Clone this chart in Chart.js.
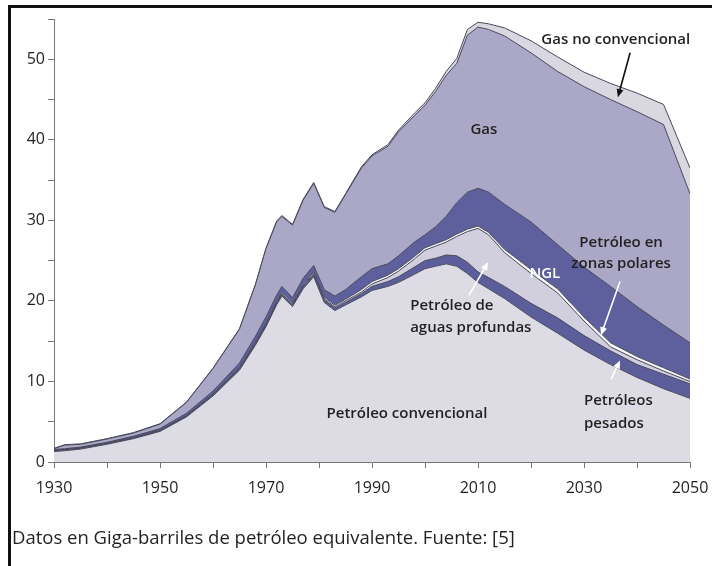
<!DOCTYPE html>
<html lang="es">
<head>
<meta charset="utf-8">
<title>Producción mundial de petróleo y gas</title>
<script src="https://cdn.jsdelivr.net/npm/chart.js"></script>
<style>
  html, body { margin:0; padding:0; background:#fff; }
  body { width:712px; height:566px; position:relative; overflow:hidden; font-family:"Open Sans", sans-serif; }
  .frame { position:absolute; left:8px; top:5px; width:800px; height:700px; border-left:3px solid #111; border-top:3px solid #111; }
  #chart { position:absolute; left:0; top:0; }
  .nota { position:absolute; left:12px; top:524px; font-size:18.5px; color:#231f20; white-space:nowrap; }
</style>
</head>
<body>
<div class="frame"></div>
<canvas id="chart" width="712" height="566"></canvas>
<div class="nota">Datos en Giga-barriles de petróleo equivalente. Fuente: [5]</div>
<script>
// years sampled from the figure (Gb oil equivalent per year, each layer = its own thickness)
const years = [1930,1932,1935,1940,1945,1950,1955,1960,1965,1968,1970,1972,1973,1975,1977,1979,1981,1983,1985,1988,1990,1993,1995,1998,2000,2002,2004,2006,2008,2010,2012,2015,2020,2025,2030,2035,2040,2045,2050];

const petroleoConvencional = [1.3,1.4,1.6,2.2,2.9,3.8,5.6,8.2,11.4,14.5,16.8,19.5,20.6,19.3,21.5,23.0,19.8,18.8,19.5,20.5,21.3,21.8,22.3,23.3,24.0,24.3,24.6,24.3,23.4,22.3,21.5,20.3,18.0,16.0,13.9,12.1,10.5,9.1,7.9];
const petroleosPesados     = [0.1,0.1,0.1,0.1,0.1,0.1,0.1,0.15,0.2,0.2,0.2,0.2,0.2,0.2,0.25,0.25,0.3,0.3,0.3,0.4,0.5,0.6,0.7,0.9,1.0,1.0,1.1,1.3,1.4,1.3,1.4,1.5,1.7,1.9,1.8,1.7,1.6,1.8,1.8];
const aguasProfundas       = [0,0,0,0,0,0,0.05,0.05,0.05,0.1,0.1,0.1,0.1,0.1,0.1,0.15,0.15,0.15,0.2,0.2,0.3,0.5,0.7,1.0,1.3,1.5,1.6,2.4,3.8,5.4,5.3,4.2,3.7,3.1,1.8,0.5,0.6,0.4,0.3];
const zonasPolares         = [0.05,0.05,0.05,0.05,0.05,0.05,0.05,0.05,0.1,0.1,0.1,0.15,0.15,0.15,0.15,0.2,0.2,0.2,0.2,0.3,0.3,0.3,0.3,0.3,0.3,0.3,0.3,0.3,0.3,0.3,0.3,0.4,0.5,0.5,0.5,0.5,0.4,0.4,0.3];
const ngl                  = [0.1,0.1,0.1,0.1,0.15,0.2,0.25,0.35,0.55,0.7,0.8,0.75,0.75,0.65,0.8,0.8,0.95,1.15,1.2,1.6,1.6,1.4,1.6,1.8,1.6,2.1,2.9,3.9,4.6,4.7,5.0,5.6,5.9,5.5,6.2,7.0,6.2,5.3,4.5];
const gas                  = [0.1,0.45,0.35,0.4,0.4,0.55,1.35,2.8,4.2,6.4,8.5,9.1,8.7,9.0,9.7,10.2,10.2,10.4,11.8,13.5,14.0,14.6,15.4,15.7,16.1,16.8,17.5,17.3,19.5,20.0,20.2,20.9,21.0,21.5,22.4,23.2,24.2,24.9,18.5];
const gasNoConvencional    = [0.05,0.05,0.05,0.05,0.05,0.05,0.05,0.05,0.05,0.05,0.05,0.1,0.1,0.1,0.1,0.1,0.1,0.1,0.1,0.15,0.15,0.2,0.2,0.3,0.3,0.4,0.5,0.6,0.7,0.6,0.7,1.0,1.5,1.8,1.8,2.0,2.3,2.5,3.2];

const xTickLabels = [1930,1950,1970,1990,2010,2030,2050];
const yTickLabels = [0,10,20,30,40,50];

const textColor = '#231f20';
const edge = '#48485c';

// labels and arrows placed in data units (year, value)
const notas = [
  { t:'Gas no convencional', x:2036.0, y:52.4, c:textColor, a:'center' },
  { t:'Gas', x:2011.1, y:41.2, c:textColor, a:'center' },
  { t:'NGL', x:2022.6, y:23.4, c:'#ffffff', a:'center' },
  { t:'Petróleo en', x:2037.0, y:27.2, c:textColor, a:'center' },
  { t:'zonas polares', x:2037.0, y:24.6, c:textColor, a:'center' },
  { t:'Petróleo de', x:1997.2, y:19.4, c:textColor, a:'left' },
  { t:'aguas profundas', x:1997.2, y:16.7, c:textColor, a:'left' },
  { t:'Petróleos', x:2030.0, y:7.6, c:textColor, a:'left' },
  { t:'pesados', x:2030.0, y:4.75, c:textColor, a:'left' },
  { t:'Petróleo convencional', x:1996.6, y:6.0, c:textColor, a:'center' }
];
const flechas = [
  { x0:2038.7, y0:50.8, x1:2036.4, y1:45.3, c:'#111' },
  { x0:2036.8, y0:22.4, x1:2033.2, y1:15.75, c:'#fff' },
  { x0:2008.3, y0:20.7, x1:2011.9, y1:24.8, c:'#fff' },
  { x0:2035.1, y0:10.25, x1:2036.8, y1:12.6, c:'#fff' }
];

function serie(label, values, color, fill){
  return {
    label: label,
    data: years.map((yr, i) => ({ x: yr, y: values[i] })),
    backgroundColor: color,
    borderColor: edge,
    borderWidth: 1,
    pointRadius: 0,
    tension: 0,
    fill: fill
  };
}

const anotaciones = {
  id: 'anotaciones',
  afterDatasetsDraw(chart){
    const c = chart.ctx, sx = chart.scales.x, sy = chart.scales.y;
    c.save();
    flechas.forEach(f => {
      const x0 = sx.getPixelForValue(f.x0), y0 = sy.getPixelForValue(f.y0);
      const x1 = sx.getPixelForValue(f.x1), y1 = sy.getPixelForValue(f.y1);
      const ang = Math.atan2(y1 - y0, x1 - x0);
      c.strokeStyle = f.c; c.fillStyle = f.c; c.lineWidth = 1.6;
      c.beginPath(); c.moveTo(x0, y0); c.lineTo(x1 - 5*Math.cos(ang), y1 - 5*Math.sin(ang)); c.stroke();
      c.beginPath();
      c.moveTo(x1, y1);
      c.lineTo(x1 - 8*Math.cos(ang) + 3.5*Math.sin(ang), y1 - 8*Math.sin(ang) - 3.5*Math.cos(ang));
      c.lineTo(x1 - 8*Math.cos(ang) - 3.5*Math.sin(ang), y1 - 8*Math.sin(ang) + 3.5*Math.cos(ang));
      c.closePath(); c.fill();
    });
    c.font = '600 15px "Open Sans", sans-serif';
    c.textBaseline = 'middle';
    notas.forEach(n => {
      c.fillStyle = n.c; c.textAlign = n.a;
      c.fillText(n.t, sx.getPixelForValue(n.x), sy.getPixelForValue(n.y));
    });
    c.restore();
  }
};

new Chart(document.getElementById('chart').getContext('2d'), {
  type: 'line',
  data: {
    datasets: [
      serie('Petróleo convencional', petroleoConvencional, '#dddce4', 'origin'),
      serie('Petróleos pesados', petroleosPesados, '#5b5e9a', '-1'),
      serie('Petróleo de aguas profundas', aguasProfundas, '#d1cfdd', '-1'),
      serie('Petróleo en zonas polares', zonasPolares, '#f7f7f9', '-1'),
      serie('NGL', ngl, '#5d609c', '-1'),
      serie('Gas', gas, '#aaa7c7', '-1'),
      serie('Gas no convencional', gasNoConvencional, '#d9d8e1', '-1')
    ]
  },
  options: {
    responsive: false,
    animation: false,
    devicePixelRatio: 1,
    layout: { padding: { top: 19, right: 22, bottom: 64, left: 0 } },
    plugins: { legend: { display: false }, tooltip: { enabled: false } },
    scales: {
      x: {
        type: 'linear', min: 1930, max: 2050,
        grid: { drawOnChartArea: false, tickLength: 6, color: '#777' },
        border: { color: '#777' },
        ticks: {
          stepSize: 10, autoSkip: false, maxRotation: 0, padding: 11,
          color: textColor, font: { family: 'Open Sans', size: 16 },
          callback: v => xTickLabels.includes(v) ? String(v) : ''
        },
        afterFit: s => { s.height = 40; s.paddingLeft = 0; s.paddingRight = 0; }
      },
      y: {
        stacked: true, min: 0, max: 55,
        grid: { drawOnChartArea: false, tickLength: 6, color: '#777' },
        border: { color: '#777' },
        ticks: {
          stepSize: 5, padding: 3,
          color: textColor, font: { family: 'Open Sans', size: 16 },
          callback: v => yTickLabels.includes(v) ? String(v) : ''
        },
        afterFit: s => { s.width = 54; }
      }
    }
  },
  plugins: [anotaciones]
});
</script>
</body>
</html>
